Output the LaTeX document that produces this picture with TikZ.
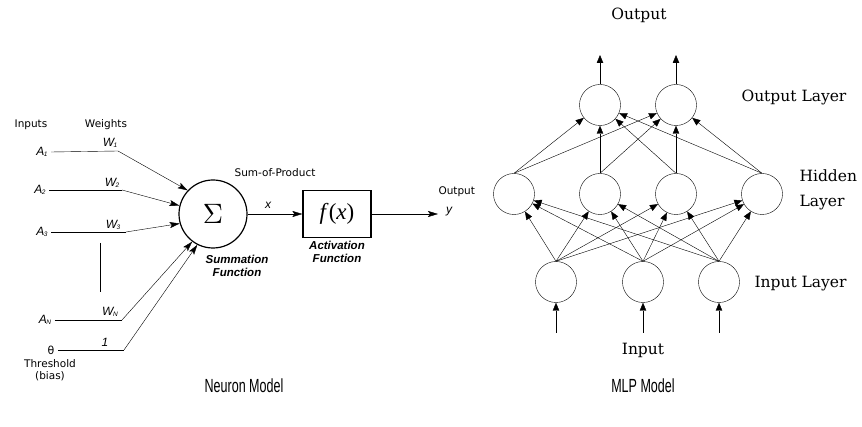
\documentclass[tikz,border=0pt]{standalone}
\usepackage{fontspec}
\usepackage{graphicx}
\setmainfont{DejaVu Serif}
\setsansfont{DejaVu Sans}
\newfontfamily\helv{Liberation Sans}
\newfontfamily\romfont{Liberation Serif}
\usetikzlibrary{calc,arrows.meta}

\tikzset{
  neuron/.style={draw,circle,minimum size=41pt,inner sep=0pt},
  link/.style={-{Triangle[length=8pt,width=6.5pt]}},
  wire/.style={-{Stealth[length=10pt,width=6pt,inset=2pt]}},
  small/.style={font=\sffamily\fontsize{10.5}{12}\selectfont},
  inlab/.style={font=\helv\itshape\fontsize{12}{12}\selectfont},
  tag/.style={font=\helv\bfseries\itshape\fontsize{11.5}{12.5}\selectfont,align=center},
  layer/.style={font=\fontsize{15.5}{25}\selectfont},
  caption/.style={font=\helv\fontsize{19}{19}\selectfont}
}
\newcommand{\ax}[2]{#1\kern-0.5pt\raisebox{-1.5pt}{\fontsize{6.5}{6.5}\selectfont #2}}

\begin{document}
\begin{tikzpicture}[x=1pt,y=-1pt]
\useasboundingbox (0,0) rectangle (862,427);

\draw node [draw,circle,very thick,minimum size=68pt,inner sep=0pt](sum) at (213,214){\scalebox{2.8}{$\Sigma$}};
\draw node [draw,rectangle,very thick,minimum width=68pt,minimum height=47pt](act) at (337,214){\romfont\fontsize{23}{23}\selectfont\textit{f}(\textit{x})};

\draw node [small] at (31,125){Inputs};
\draw node [small] at (106,125){Weights};

\draw node [inlab](a1) at (42,152){\ax{A}{1}};
\draw node [inlab](a2) at (40,190){\ax{A}{2}};
\draw node [inlab](a3) at (42,232){\ax{A}{3}};
\draw node [inlab](an) at (45,320){\ax{A}{N}};
\draw node [font=\sffamily\fontsize{11}{11}\selectfont](th) at (51,350){θ};

\coordinate (w1) at (118,151);
\coordinate (w2) at (122,190);
\coordinate (w3) at (126,232);
\coordinate (wn) at (122,320);
\coordinate (wb) at (124,350);

\draw (a1.east) -- (w1);
\draw (a2.east) -- (w2);
\draw (a3.east) -- (w3);
\draw (an.east) -- (wn);
\draw (th.east) -- (wb);

\draw[wire] (w1) -- (sum.137);
\draw[wire] (w2) -- (sum.166);
\draw[wire] (w3) -- (sum.196);
\draw[wire] (wn) -- (sum.233);
\draw[wire] (wb) -- (sum.243);

\draw node [inlab] at (110,143){\ax{W}{1}};
\draw node [inlab] at (112,183){\ax{W}{2}};
\draw node [inlab] at (113,225){\ax{W}{3}};
\draw node [inlab] at (110,312){\ax{W}{N}};
\draw node [inlab] at (105,342){1};

\coordinate (dots1) at (100,243);
\coordinate (dots2) at (100,292);
\draw (dots1) -- (dots2);

\draw node [small,align=center] at (50,370){Threshold\\(bias)};

\draw node [small] at (275,173){Sum-of-Product};
\draw node [inlab] at (268,205){x};
\draw[wire] (sum) -- (act);
\draw node [tag] at (237,266){Summation\\Function};
\draw node [tag] at (337,252){Activation\\Function};

\coordinate (yout) at (438,214);
\draw[wire] (act) -- (yout);
\draw node [small,anchor=west] at (435,192){Output};
\draw node [inlab] at (449,212){y};

\draw node [caption] at (244,386){\scalebox{0.66}[1]{Neuron Model}};

\draw node [neuron](o1) at (600,105){};
\draw node [neuron](o2) at (676,105){};
\draw node [neuron](h1) at (514,194){};
\draw node [neuron](h2) at (600,194){};
\draw node [neuron](h3) at (676,194){};
\draw node [neuron](h4) at (762,194){};
\draw node [neuron](i1) at (556,282){};
\draw node [neuron](i2) at (643,282){};
\draw node [neuron](i3) at (719,282){};

\foreach \i in {1,2,3}
  \foreach \j in {1,...,4}
    \draw[link] (i\i.north) -- (h\j);
\foreach \j in {1,...,4}
  \foreach \k in {1,2}
    \draw[link] (h\j.north) -- (o\k);

\coordinate (in1) at (556,333);
\coordinate (in2) at (643,333);
\coordinate (in3) at (719,333);
\coordinate (out1) at (600,55);
\coordinate (out2) at (676,55);
\foreach \i in {1,2,3}
  \draw[link] (in\i) -- (i\i);
\foreach \k in {1,2}
  \draw[link] (o\k) -- (out\k);

\draw node [layer] at (639,15){Output};
\draw node [layer,anchor=west] at (738,97){Output Layer};
\draw node [layer,anchor=west,align=left] at (796,190){Hidden\\Layer};
\draw node [layer,anchor=west] at (751,284){Input Layer};
\draw node [layer] at (643,350){Input};

\draw node [caption] at (643,386){\scalebox{0.66}[1]{MLP Model}};

\end{tikzpicture}
\end{document}
